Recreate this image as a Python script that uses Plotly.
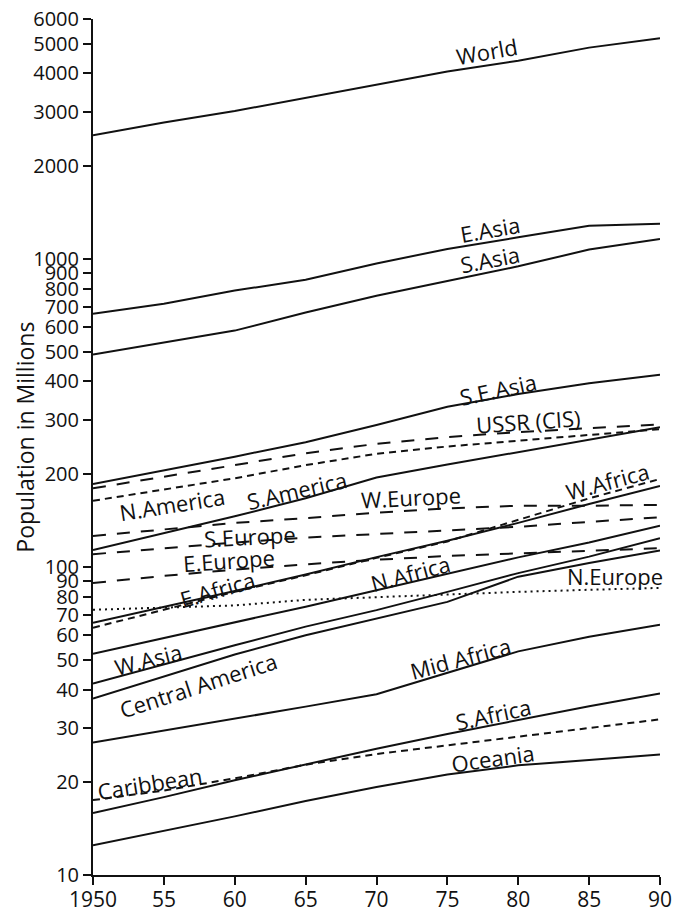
import plotly.graph_objects as go
import math

# Population by world region, 1950-1990 (millions)
years = [1950, 1955, 1960, 1965, 1970, 1975, 1980, 1985, 1990]

world = [2520, 2770, 3020, 3330, 3690, 4060, 4400, 4850, 5200]
e_asia = [664, 715, 789, 855, 966, 1077, 1175, 1280, 1300]
s_asia = [489, 535, 585, 670, 759, 847, 946, 1072, 1161]
se_asia = [186, 206, 228, 254, 289, 331, 364, 395, 421]
ussr = [180, 196, 214, 234, 251, 264, 274, 282, 290]
n_america = [164, 178, 194, 214, 233, 246, 257, 269, 280]
s_america = [113.5, 129, 146, 167, 195, 215, 236, 259, 284]
w_europe = [126, 132, 139, 144, 150, 155, 158, 158, 159]
s_europe = [110, 115, 120, 124.5, 128, 131, 135, 140, 145]
e_europe = [88.7, 93.5, 98, 102, 105.5, 108.5, 110.7, 113, 115]
e_africa = [65.9, 74, 83.5, 94.5, 107.6, 121.6, 139, 160, 183]
w_africa = [63.5, 72.5, 83, 94, 107, 121, 142, 167, 193]
n_africa = [52.3, 58.7, 65.9, 74.3, 84, 95, 107.4, 120, 136]
w_asia = [41.8, 48.3, 55.7, 64, 72.4, 83, 95.5, 108, 124]
c_america = [37.4, 44, 52, 60, 68, 77, 93, 103, 113]
n_europe = [72.6, 73.8, 75.0, 78.2, 79.8, 81.4, 83, 84.3, 85.5]
mid_africa = [26.9, 29.4, 32.2, 35.2, 38.6, 45.2, 53.2, 59.3, 64.9]
s_africa = [15.9, 17.9, 20.3, 22.8, 25.7, 28.7, 31.8, 35.3, 38.8]
caribbean = [17.5, 18.8, 20.6, 22.8, 24.7, 26.4, 28.1, 30, 32]
oceania = [12.5, 13.9, 15.5, 17.4, 19.3, 21.2, 22.7, 23.6, 24.6]

x_tickvals = [1950, 1955, 1960, 1965, 1970, 1975, 1980, 1985, 1990]
x_ticktext = ["1950", "55", "60", "65", "70", "75", "80", "85", "90"]
y_tickvals = [10, 20, 30, 40, 50, 60, 70, 80, 90, 100, 200, 300, 400, 500,
              600, 700, 800, 900, 1000, 2000, 3000, 4000, 5000, 6000]
y_ticktext = [str(v) for v in y_tickvals]

SOLID = "solid"
LONG = "13px,11px"
SHORT = "7px,5px"
DOT = "2px,4px"

series = [
    (world, SOLID), (e_asia, SOLID), (s_asia, SOLID), (se_asia, SOLID),
    (ussr, LONG), (n_america, SHORT), (s_america, SOLID),
    (w_europe, LONG), (s_europe, LONG), (e_europe, LONG),
    (e_africa, SOLID), (w_africa, SHORT), (n_africa, SOLID),
    (w_asia, SOLID), (c_america, SOLID), (n_europe, DOT),
    (mid_africa, SOLID), (s_africa, SOLID), (caribbean, SHORT),
    (oceania, SOLID),
]

# label text, year, value, rotation
labels = [
    ("World", 1977.8, 10 ** 3.676, -10),
    ("E.Asia", 1978.0, 10 ** 3.097, -10),
    ("S.Asia", 1978.0, 10 ** 2.998, -11),
    ("S.E.Asia", 1978.6, 10 ** 2.576, -12),
    ("USSR (CIS)", 1980.7, 10 ** 2.474, -4),
    ("N.America", 1955.6, 10 ** 2.205, -9),
    ("S.America", 1964.4, 10 ** 2.249, -13),
    ("W.Europe", 1972.4, 10 ** 2.226, -3),
    ("S.Europe", 1961.1, 10 ** 2.100, -3),
    ("E.Europe", 1959.6, 10 ** 2.021, -4),
    ("E.Africa", 1958.8, 10 ** 1.929, -16),
    ("W.Africa", 1986.3, 10 ** 2.280, -15),
    ("N.Africa", 1972.4, 10 ** 1.979, -15),
    ("N.Europe", 1986.8, 10 ** 1.970, 0),
    ("W.Asia", 1953.9, 10 ** 1.702, -14),
    ("Central America", 1957.4, 10 ** 1.618, -18),
    ("Mid Africa", 1975.9, 10 ** 1.704, -15),
    ("S.Africa", 1978.2, 10 ** 1.523, -12),
    ("Caribbean", 1954.0, 10 ** 1.300, -9),
    ("Oceania", 1978.2, 10 ** 1.381, -8),
]

FONT = "Open Sans"
INK = "#111111"

fig = go.Figure()
for values, dash in series:
    fig.add_trace(go.Scatter(
        x=years, y=values, mode="lines",
        line=dict(color=INK, width=2, dash=dash),
        showlegend=False, hoverinfo="skip",
    ))

annotations = []
for text, yr, val, ang in labels:
    annotations.append(dict(
        x=yr, y=math.log10(val), xref="x", yref="y", text=text,
        showarrow=False, textangle=ang,
        xanchor="center", yanchor="middle",
        font=dict(family=FONT, size=22, color=INK),
    ))
annotations.append(dict(
    x=-0.12, y=0.512, xref="paper", yref="paper",
    text="Population in Millions", showarrow=False, textangle=-90,
    xanchor="center", yanchor="middle",
    font=dict(family=FONT, size=23, color=INK),
))

fig.update_layout(
    width=673, height=913,
    margin=dict(l=93, r=13, t=19, b=38),
    paper_bgcolor="white", plot_bgcolor="white",
    annotations=annotations,
    font=dict(family=FONT, color=INK),
)
fig.update_xaxes(
    range=[1950, 1990], tickvals=x_tickvals, ticktext=x_ticktext,
    ticks="outside", ticklen=8, tickwidth=2, tickcolor=INK,
    showline=True, linewidth=2, linecolor=INK,
    showgrid=False, zeroline=False, automargin=False,
    ticklabelstandoff=-3,
    tickfont=dict(family=FONT, size=21, color=INK),
)
fig.update_yaxes(
    type="log", range=[1, math.log10(6000) + 0.0005],
    tickvals=y_tickvals, ticktext=y_ticktext,
    ticks="outside", ticklen=8, tickwidth=2, tickcolor=INK,
    showline=True, linewidth=2, linecolor=INK,
    showgrid=False, zeroline=False, automargin=False,
    tickfont=dict(family=FONT, size=20, color=INK),
)

fig.write_html("out.html")
